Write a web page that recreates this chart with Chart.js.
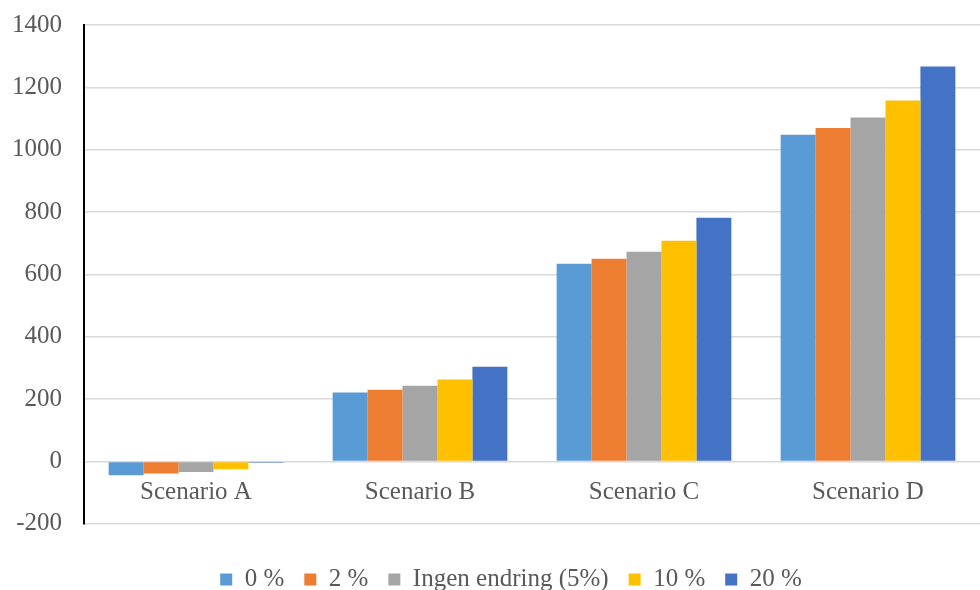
<!DOCTYPE html>
<html>
<head>
<meta charset="utf-8">
<script src="https://cdn.jsdelivr.net/npm/chart.js@4/dist/chart.umd.min.js"></script>
<style>
html, body { margin: 0; padding: 0; background: #ffffff; }
#wrap { width: 980px; height: 590px; }
</style>
</head>
<body>
<div id="wrap"><canvas id="chart" width="980" height="590"></canvas></div>
<script>
// Scenario categories and series
const categories = ["Scenario A", "Scenario B", "Scenario C", "Scenario D"];

const seriesNames = ["0 %", "2 %", "Ingen endring (5%)", "10 %", "20 %"];

const values0 = [-44, 221, 634, 1048];
const values2 = [-39, 230, 650, 1070];
const valuesIngen = [-34, 243, 673, 1103];
const values10 = [-25, 263, 708, 1158];
const values20 = [-4, 304, 782, 1267];

const colors = ["#5B9BD5", "#ED7D31", "#A5A5A5", "#FFC000", "#4472C4"];

const yTicks = { min: -200, max: 1400, step: 200 };

const FONT = "'Liberation Serif', 'Times New Roman', serif";
const TEXT_COLOR = "#595959";

const allValues = [values0, values2, valuesIngen, values10, values20];

const datasets = seriesNames.map((name, i) => ({
    label: name,
    data: allValues[i],
    backgroundColor: colors[i],
    borderWidth: 0,
    categoryPercentage: 0.78,
    barPercentage: 1.0
}));

// nudge the legend a bit to the right, like the original
const legendShift = {
    id: "legendShift",
    afterUpdate(chart) {
        chart.legend.left += 26;
        chart.legend.right += 26;
    }
};

new Chart(document.getElementById("chart"), {
    type: "bar",
    data: {
        labels: categories,
        datasets: datasets
    },
    plugins: [legendShift],
    options: {
        responsive: false,
        animation: false,
        layout: {
            padding: { top: 0, right: 0, left: -10, bottom: -12 }
        },
        plugins: {
            legend: {
                position: "bottom",
                // empty title only used as spacer above the items
                title: {
                    display: true,
                    text: " ",
                    font: { size: 1 },
                    padding: { top: 22, bottom: 0 }
                },
                labels: {
                    boxWidth: 12,
                    boxHeight: 12,
                    padding: 20,
                    color: TEXT_COLOR,
                    font: { family: FONT, size: 25 }
                }
            },
            tooltip: { enabled: false }
        },
        scales: {
            x: {
                position: { y: 0 },
                grid: { display: false, drawTicks: false },
                border: { display: false },
                ticks: {
                    color: TEXT_COLOR,
                    padding: 16,
                    font: { family: FONT, size: 25 }
                }
            },
            y: {
                min: yTicks.min,
                max: yTicks.max,
                grid: { color: "#d9d9d9", lineWidth: 1.5, drawTicks: false },
                border: { display: true, color: "#000000", width: 2 },
                ticks: {
                    stepSize: yTicks.step,
                    color: TEXT_COLOR,
                    padding: 22,
                    font: { family: FONT, size: 25 },
                    callback: v => String(v)
                },
                // top of plot sits at 25px like the original
                afterFit: scale => {
                    scale.paddingTop = 25;
                }
            }
        }
    }
});
</script>
</body>
</html>
